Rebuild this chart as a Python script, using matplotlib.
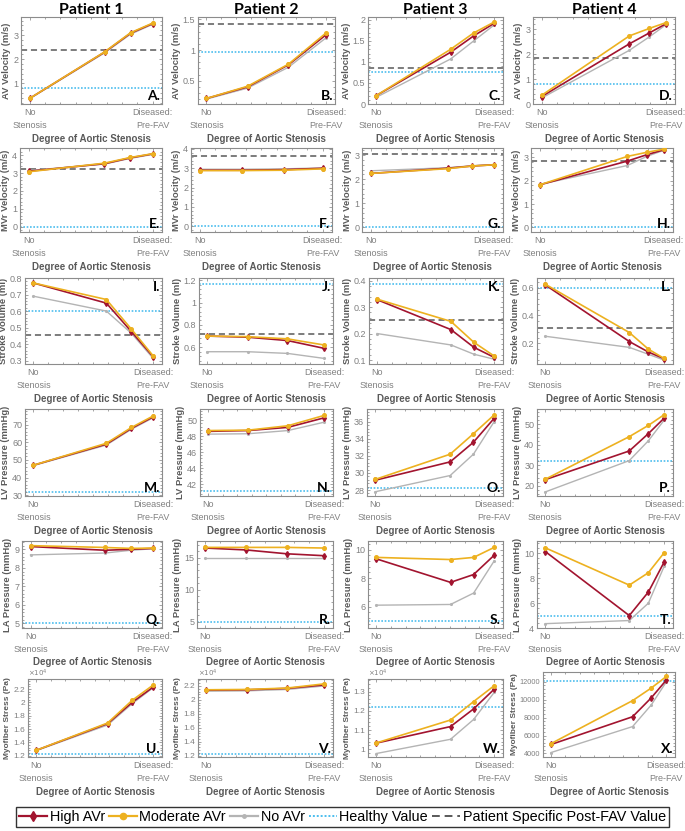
import numpy as np
import matplotlib
matplotlib.use("Agg")
import matplotlib.pyplot as plt
from matplotlib.ticker import AutoMinorLocator, FuncFormatter, MultipleLocator
from matplotlib.lines import Line2D

W, H = 685, 831

patients = ["Patient 1", "Patient 2", "Patient 3", "Patient 4"]
x_stage = [[0, 0.61, 0.82, 1], [0, 0.345, 0.686, 1],
           [0, 0.63, 0.826, 1], [0, 0.707, 0.868, 1]]
x_labels = ["No\nStenosis", "Diseased:\nPre-FAV"]

# AV velocity (m/s)
av_high = [[0.38, 2.3, 3.08, 3.48], [0.21, 0.40, 0.76, 1.25],
           [0.20, 1.23, 1.62, 1.92], [0.30, 2.42, 2.86, 3.22]]
av_mod = [[0.38, 2.31, 3.1, 3.5], [0.21, 0.41, 0.77, 1.28],
          [0.20, 1.30, 1.69, 1.95], [0.35, 2.74, 3.04, 3.27]]
av_no = [[0.37, 2.27, 3.04, 3.45], [0.20, 0.38, 0.72, 1.20],
         [0.16, 1.07, 1.50, 1.88], [0.24, 2.16, 2.70, 3.18]]
av_healthy = [0.8, 0.97, 0.77, 0.81]
av_post = [2.39, 1.43, 0.85, 1.85]

# MVr velocity (m/s)
mv_high = [[3.1, 3.52, 3.85, 4.07], [2.9, 2.9, 2.93, 3.0],
           [2.24, 2.46, 2.55, 2.6], [1.82, 2.84, 3.12, 3.32]]
mv_mod = [[3.07, 3.55, 3.87, 4.08], [2.88, 2.88, 2.9, 2.97],
          [2.24, 2.44, 2.55, 2.6], [1.82, 3.04, 3.22, 3.35]]
mv_no = [[3.14, 3.5, 3.82, 4.04], [2.95, 2.95, 2.97, 3.02],
         [2.35, 2.48, 2.56, 2.61], [1.84, 2.65, 3.05, 3.3]]
mv_healthy = [0.0, 0.0, 0.0, 0.0]
mv_post = [3.2, 3.65, 3.07, 2.85]

# Stroke volume (ml)
sv_high = [[0.77, 0.648, 0.475, 0.325], [0.70, 0.69, 0.66, 0.59],
           [0.328, 0.215, 0.148, 0.11], [0.62, 0.212, 0.136, 0.088]]
sv_mod = [[0.77, 0.67, 0.49, 0.33], [0.70, 0.695, 0.675, 0.62],
          [0.33, 0.246, 0.167, 0.115], [0.625, 0.277, 0.157, 0.09]]
sv_no = [[0.69, 0.60, 0.465, 0.315], [0.56, 0.56, 0.545, 0.50],
         [0.20, 0.157, 0.122, 0.103], [0.25, 0.17, 0.12, 0.078]]
sv_healthy = [0.6, 1.17, 0.387, 0.6]
sv_post = [0.453, 0.715, 0.252, 0.312]

# LV pressure (mmHg)
lv_high = [[47, 59, 68, 74.5], [48.6, 48.7, 49.1, 50.3],
           [29.15, 31.3, 33.6, 36.4], [23, 37, 45.5, 53]]
lv_mod = [[47, 59.5, 68.5, 75], [48.7, 48.75, 49.3, 50.6],
          [29.25, 32.2, 34.6, 36.8], [23.2, 44, 49.5, 54.7]]
lv_no = [[46.8, 58.5, 67.5, 74], [48.25, 48.3, 48.7, 49.75],
         [27.8, 29.7, 32.2, 36.0], [17, 32.3, 42, 52]]
lv_healthy = [32, 41.1, 28.25, 32]

# LA pressure (mmHg)
la_high = [[9.15, 8.95, 9.0, 9.05], [16.5, 16.2, 15.6, 15.3],
           [9.35, 7.7, 8.25, 9.6], [10.15, 5.0, 6.9, 9.3]]
la_mod = [[9.2, 9.1, 9.05, 9.07], [16.6, 16.6, 16.6, 16.5],
          [9.45, 9.3, 9.45, 10.15], [10.45, 7.45, 8.45, 10.05]]
la_no = [[8.7, 8.8, 8.95, 9.03], [15.0, 15.0, 15.0, 15.0],
         [6.1, 6.15, 6.95, 9.2], [4.35, 4.6, 6.0, 8.95]]
la_healthy = [5, 5, 5, 5]

# Myofiber stress (Pa)
ms_high = [[12800, 16800, 20000, 22300], [21400, 21450, 21650, 22150],
           [10320, 11180, 12100, 13120], [5000, 8100, 10200, 12200]]
ms_mod = [[12800, 16900, 20300, 22600], [21450, 21500, 21700, 22300],
          [10330, 11520, 12480, 13300], [5100, 9900, 11300, 12600]]
ms_no = [[12750, 16600, 19800, 22200], [21250, 21300, 21500, 22000],
         [9780, 10520, 11550, 12950], [4100, 7000, 9400, 12000]]
ms_healthy = [12200, 12200, 12200, 12150]

C_HIGH = "#A2142F"
C_MOD = "#EDB120"
C_NO = "#B4B4B4"
C_HEALTHY = "#4DBEEE"
C_POST = "#595959"
C_TICK = "#808080"
C_LAB = "#5a5a5a"

rows = [
    ("AV Velocity (m/s)", av_high, av_mod, av_no, av_healthy, av_post, "ABCD"),
    ("MVr Velocity (m/s)", mv_high, mv_mod, mv_no, mv_healthy, mv_post, "EFGH"),
    ("Stroke Volume (ml)", sv_high, sv_mod, sv_no, sv_healthy, sv_post, "IJKL"),
    ("LV Pressure (mmHg)", lv_high, lv_mod, lv_no, lv_healthy, None, "MNOP"),
    ("LA Pressure (mmHg)", la_high, la_mod, la_no, la_healthy, None, "QRST"),
    ("Myofiber Stress (Pa)", ms_high, ms_mod, ms_no, ms_healthy, None, "UVWX"),
]

ylims = [
    [(0.15, 3.75), (0.12, 1.54), (0, 2.07), (0, 3.5)],
    [(-0.3, 4.4), (-0.3, 4.05), (-0.2, 3.3), (-0.2, 3.4)],
    [(0.28, 0.8), (0.45, 1.22), (0.085, 0.41), (0.05, 0.67)],
    [(29.5, 79), (40.5, 51.4), (27.3, 37.5), (15, 57.5)],
    [(4.75, 9.45), (4, 17.6), (4.5, 10.6), (4, 11)],
    [(11800, 23500), (11800, 23000), (9600, 13650), (3600, 13100)],
]
ysteps = [
    [1, 0.5, 0.5, 1],
    [1, 1, 1, 1],
    [0.1, 0.2, 0.1, 0.2],
    [10, 2, 2, 10],
    [1, 5, 2, 2],
    [2000, 2000, 1000, 2000],
]

boxes = [
    [(21, 17, 162, 104), (198, 17, 335, 104), (368, 17, 503, 104), (533, 17, 675, 104)],
    [(20, 148, 162, 232), (191, 148, 332, 232), (362, 148, 503, 232), (531, 148, 673, 232)],
    [(25, 278, 162, 364), (199, 278, 333, 364), (369, 278, 503, 364), (537, 278, 673, 364)],
    [(25, 409, 162, 496), (200, 409, 333, 496), (367, 409, 503, 496), (537, 409, 673, 496)],
    [(22, 541, 162, 628), (197, 541, 333, 628), (368, 541, 503, 628), (537, 541, 673, 628)],
    [(28, 679, 162, 757), (198, 679, 333, 757), (368, 679, 503, 757), (543, 672, 675, 757)],
]

plain_fmt = FuncFormatter(lambda v, p: "%g" % round(v, 6))
e4_fmt = FuncFormatter(lambda v, p: "%g" % round(v / 1e4, 6))

plt.rcParams['font.family'] = ['Liberation Sans', 'DejaVu Sans']
fig = plt.figure(figsize=(W / 100, H / 100), dpi=100)

for r, (ylab, hi, mo, no, healthy, post, letters) in enumerate(rows):
    for c in range(4):
        x0, y0, x1, y1 = boxes[r][c]
        ax = fig.add_axes([x0 / W, 1 - y1 / H, (x1 - x0) / W, (y1 - y0) / H])
        xs = x_stage[c]
        ax.axhline(healthy[c], color=C_HEALTHY, ls=(0, (1, 1)), lw=1.2, zorder=1)
        if post is not None:
            ax.axhline(post[c], color=C_POST, ls=(0, (4, 2.5)), lw=1.1, zorder=1)
        ax.plot(xs, no[c], color=C_NO, marker='.', ms=2.5, lw=1.0, zorder=2)
        ax.plot(xs, hi[c], color=C_HIGH, marker='d', ms=3, lw=1.2, zorder=3)
        ax.plot(xs, mo[c], color=C_MOD, marker='o', ms=2.6, lw=1.2, zorder=4)

        ax.set_xlim(-0.07, 1.075)
        ax.set_ylim(*ylims[r][c])
        ax.yaxis.set_major_locator(MultipleLocator(ysteps[r][c]))
        ax.yaxis.set_minor_locator(AutoMinorLocator(5))
        ax.set_xticks([0, 1])
        ax.set_xticklabels(x_labels, linespacing=1.5)
        ax.xaxis.set_minor_locator(MultipleLocator(0.125))
        tsize = 6.5 if r < 5 else (6 if c < 3 else 5.3)
        ax.tick_params(which='both', direction='in', top=True, right=True,
                       colors=C_TICK, labelsize=tsize, width=0.5)
        ax.tick_params(axis='x', labelsize=6.5)
        ax.tick_params(which='major', length=2.5)
        ax.tick_params(which='minor', length=1.3)
        ax.tick_params(axis='x', pad=3)
        ax.tick_params(axis='y', pad=2)
        for s in ax.spines.values():
            s.set_color("#8c8c8c")
            s.set_linewidth(0.8)

        if r == 5 and c < 3:
            ax.yaxis.set_major_formatter(e4_fmt)
            ax.text(0.0, 1.005, r"$\times10^{4}$", transform=ax.transAxes,
                    ha='left', va='bottom', fontsize=5, color=C_TICK)
        else:
            ax.yaxis.set_major_formatter(plain_fmt)

        ysize = 6 if r == 5 else 6.8
        ax.set_ylabel(ylab, fontsize=ysize, fontweight='bold', color=C_LAB, labelpad=1.5)
        ax.set_xlabel("Degree of Aortic Stenosis", fontsize=7, fontweight='bold',
                      color=C_LAB, labelpad=2.5 if r == 4 else 3)

        if r == 2:
            ax.text(0.985, 0.97, letters[c] + ".", transform=ax.transAxes,
                    ha='right', va='top', fontsize=10, fontweight='bold',
                    family='Lato', color='black')
        else:
            ax.text(0.985, 0.02, letters[c] + ".", transform=ax.transAxes,
                    ha='right', va='bottom', fontsize=10, fontweight='bold',
                    family='Lato', color='black')
        if r == 0:
            ax.set_title(patients[c], fontsize=11.5, fontweight='bold',
                         family='Lato', pad=2)

handles = [
    Line2D([], [], color=C_HIGH, marker='d', ms=5, lw=1.6, label='High AVr'),
    Line2D([], [], color=C_MOD, marker='o', ms=4.5, lw=1.6, label='Moderate AVr'),
    Line2D([], [], color=C_NO, marker='.', ms=5, lw=1.6, label='No AVr'),
    Line2D([], [], color=C_HEALTHY, ls=(0, (1, 1)), lw=1.4, label='Healthy Value'),
    Line2D([], [], color=C_POST, ls=(0, (4, 2.5)), lw=1.4, label='Patient Specific Post-FAV Value'),
]
leg = fig.legend(handles=handles, loc='center', bbox_to_anchor=(0.5, 1 - 817 / H),
                 ncol=5, fontsize=10.4, frameon=True, fancybox=False,
                 handlelength=1.9, handletextpad=0.2, columnspacing=0.3,
                 borderpad=0.2)
leg.get_frame().set_edgecolor('black')
leg.get_frame().set_linewidth(1.0)

fig.savefig("out.png", dpi=100)
